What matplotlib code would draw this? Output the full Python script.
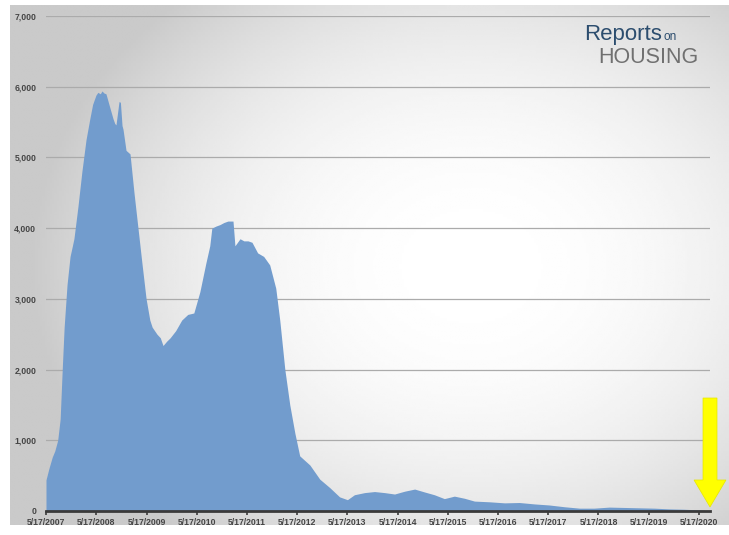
import numpy as np
import pandas as pd
import matplotlib.pyplot as plt
from matplotlib.patches import Polygon

# weekly inventory
dates = ['2007-05-17', '2007-06-07', '2007-07-01', '2007-07-20', '2007-08-10', '2007-08-28',
         '2007-09-12', '2007-09-26', '2007-10-17', '2007-11-08', '2007-11-25', '2007-12-06',
         '2008-01-04', '2008-02-02', '2008-03-03', '2008-03-31', '2008-04-20', '2008-05-14',
         '2008-05-28', '2008-06-15', '2008-06-27', '2008-07-12', '2008-07-26', '2008-08-24',
         '2008-09-15', '2008-09-28', '2008-10-07', '2008-10-29', '2008-11-08', '2008-11-20',
         '2008-11-27', '2008-12-19', '2009-01-17', '2009-02-15', '2009-03-16', '2009-04-14',
         '2009-05-14', '2009-06-10', '2009-06-27', '2009-08-01', '2009-08-25', '2009-09-14',
         '2009-10-10', '2009-11-05', '2009-12-15', '2010-01-28', '2010-03-13', '2010-04-26',
         '2010-06-09', '2010-07-22', '2010-08-20', '2010-09-04', '2010-10-05', '2010-11-02',
         '2010-12-01', '2010-12-30', '2011-02-05', '2011-02-19', '2011-03-28', '2011-04-25',
         '2011-05-25', '2011-06-23', '2011-08-03', '2011-09-16', '2011-10-30', '2011-12-13',
         '2012-01-11', '2012-02-17', '2012-03-24', '2012-04-30', '2012-06-04', '2012-08-17',
         '2012-10-28', '2013-01-09', '2013-03-21', '2013-05-17', '2013-07-07', '2013-09-19',
         '2013-11-30', '2014-02-11', '2014-04-25', '2014-07-07', '2014-09-18', '2014-11-27',
         '2015-02-08', '2015-04-22', '2015-07-04', '2015-09-15', '2015-11-27', '2016-03-16',
         '2016-07-03', '2016-10-18', '2017-02-05', '2017-05-24', '2017-09-11', '2017-12-30',
         '2018-04-15', '2018-08-03', '2018-11-20', '2019-03-10', '2019-06-27', '2019-10-14',
         '2020-01-29', '2020-05-17', '2020-06-25']
inventory = [440, 600, 760, 850, 1000, 1300,
             2000, 2600, 3200, 3600, 3750, 3850,
             4300, 4800, 5250, 5550, 5750, 5880,
             5920, 5900, 5940, 5910, 5900, 5700,
             5550, 5480, 5460, 5790, 5780, 5450,
             5400, 5100, 5050, 4500, 4000, 3500,
             3000, 2700, 2600, 2500, 2450, 2340,
             2400, 2450, 2550, 2700, 2780, 2800,
             3100, 3500, 3750, 4000, 4030, 4050,
             4080, 4100, 4100, 3750, 3850, 3820,
             3820, 3800, 3650, 3600, 3480, 3150,
             2700, 2000, 1500, 1100, 780, 650,
             450, 330, 200, 160, 230, 260,
             275, 260, 240, 280, 310, 270,
             230, 175, 210, 180, 140, 130,
             115, 120, 100, 85, 60, 40,
             40, 55, 50, 45, 40, 30,
             25, 15, 10]

ytick_vals = [0, 1000, 2000, 3000, 4000, 5000, 6000, 7000]
xtick_dates = ['2007-05-17', '2008-05-17', '2009-05-17', '2010-05-17', '2011-05-17',
               '2012-05-17', '2013-05-17', '2014-05-17', '2015-05-17', '2016-05-17',
               '2017-05-17', '2018-05-17', '2019-05-17', '2020-05-17']

df = pd.DataFrame({'date': pd.to_datetime(dates), 'inv': inventory})

W, H = 729, 535
fig = plt.figure(figsize=(W / 100, H / 100), dpi=100)
fig.patch.set_facecolor('white')

# gray panel with a soft radial highlight
bg = fig.add_axes([10 / W, 10 / H, 1 - 10 / W, 1 - 15 / H])
bg.set_axis_off()
yy, xx = np.mgrid[0:200, 0:300]
cx, cy = 0.64 * 300, 0.5 * 200
r = np.sqrt(((xx - cx) / 300) ** 2 + ((yy - cy) / 200) ** 2 * 0.8)
shade = np.clip(1.0 - 0.2 * (r / 0.6) ** 2.2, 0.79, 1.0)
bg.imshow(shade, cmap='gray', vmin=0, vmax=1, extent=[0, 1, 0, 1], aspect='auto',
          interpolation='bilinear')
bg.set_xlim(0, 1)
bg.set_ylim(0, 1)

ax = fig.add_axes([46 / W, (H - 511) / H, (710 - 46) / W, (511 - 16) / H])
ax.patch.set_alpha(0)
ax.fill_between(df['date'], df['inv'], 0, color='#729ccd', linewidth=0, zorder=2)

ax.set_ylim(0, 7000)
ax.set_xlim(pd.Timestamp('2007-05-17'), pd.Timestamp('2020-08-05'))
ax.set_yticks(ytick_vals)
ax.set_yticklabels([f'{v:,}' for v in ytick_vals])
for v in ytick_vals[1:]:
    ax.axhline(v, color='#ababab', linewidth=0.9, zorder=1)

xt = pd.to_datetime(xtick_dates)
ax.set_xticks(xt)
ax.set_xticklabels([f'{d.month}/{d.day}/{d.year}' for d in xt])

for s in ['top', 'right', 'left']:
    ax.spines[s].set_visible(False)
ax.spines['bottom'].set_color('#3a3a3a')
ax.spines['bottom'].set_linewidth(2)
ax.spines['bottom'].set_zorder(3)
ax.tick_params(axis='y', length=0, pad=7, labelsize=6.2, labelcolor='#454545')
ax.tick_params(axis='x', length=3, width=1.2, color='#3a3a3a', pad=2,
               labelsize=6.2, labelcolor='#454545')
for lab in ax.get_xticklabels() + ax.get_yticklabels():
    lab.set_fontweight('bold')
    lab.set_fontfamily('Liberation Sans')

# logo
fig.text(584 / W, 1 - 40 / H, 'Reports', fontsize=16, color='#2c4d6e',
         fontfamily='Liberation Sans', ha='left', va='baseline')
fig.text(664 / W, 1 - 40 / H, 'on', fontsize=8.5, color='#2c4d6e',
         fontfamily='Liberation Sans', ha='left', va='baseline')
fig.text(699 / W, 1 - 63 / H, 'HOUSING', fontsize=15.5, color='#707070',
         fontfamily='Liberation Sans', ha='right', va='baseline')

# yellow arrow
arrow = [(703, 398), (717, 398), (717, 480), (726, 480), (710, 507), (694, 480), (703, 480)]
arrow = [(x / W, 1 - y / H) for x, y in arrow]
fig.patches.append(Polygon(arrow, closed=True, transform=fig.transFigure,
                           facecolor='#ffff00', edgecolor='#e6e600', linewidth=0.5, zorder=5))

fig.savefig('out.png', dpi=100)
